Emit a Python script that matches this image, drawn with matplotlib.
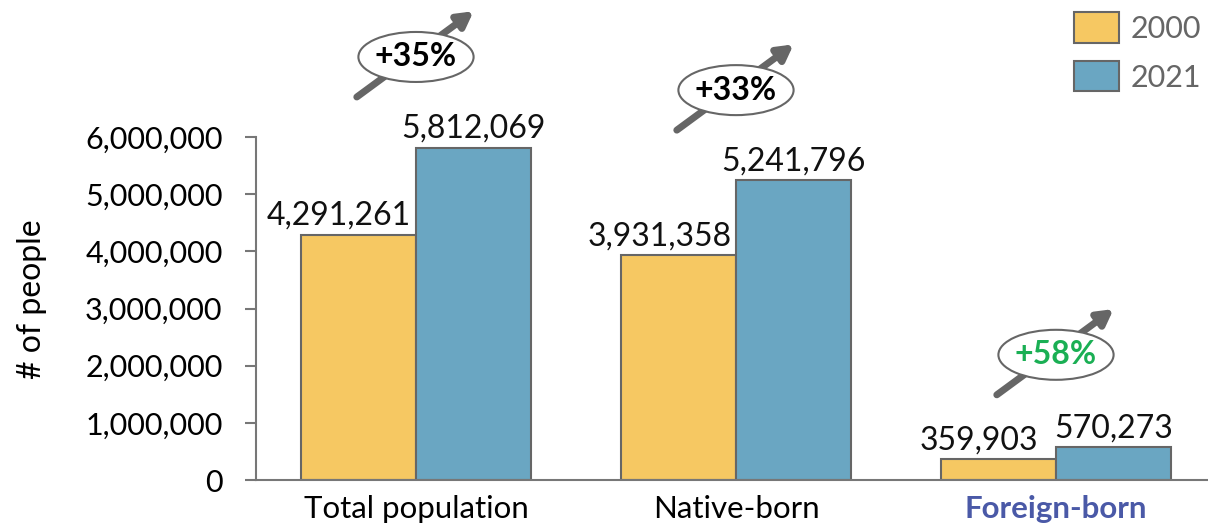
import matplotlib.pyplot as plt
from matplotlib.patches import Ellipse
import numpy as np

# datos
categorias = ['Total population', 'Native-born', 'Foreign-born']
valores_2000 = [4291261, 3931358, 359903]
valores_2021 = [5812069, 5241796, 570273]
anios = ['2000', '2021']
yticks = [0, 1000000, 2000000, 3000000, 4000000, 5000000, 6000000]

color_2000 = '#F6C862'
color_2021 = '#6AA6C2'
borde = '#666666'

plt.rcParams['font.family'] = ['Lato', 'DejaVu Sans']

fig = plt.figure(figsize=(12.08, 5.27), dpi=100)
ax = fig.add_axes([256 / 1208, 1 - 480 / 527, 1 - 256 / 1208, 480 / 527])

x = np.arange(len(categorias))
w = 0.36
ax.bar(x - w / 2, valores_2000, w, color=color_2000, edgecolor=borde, lw=1.5, label=anios[0], zorder=2)
ax.bar(x + w / 2, valores_2021, w, color=color_2021, edgecolor=borde, lw=1.5, label=anios[1], zorder=2)

px_m = (480 - 137) / 6.0  # pixeles por millon
ax.set_xlim(-0.5, 2.475)
ax.set_ylim(0, 480 / px_m * 1e6)

# etiquetas de valores
for xi, v in zip(x, valores_2000):
    ax.annotate(f'{v:,}', (xi - w / 2 - 0.06, v), xytext=(0, 3), textcoords='offset points',
                ha='center', va='bottom', fontsize=23, color='#111111')
for xi, v in zip(x, valores_2021):
    ax.annotate(f'{v:,}', (xi + w / 2, v), xytext=(0, 3), textcoords='offset points',
                ha='center', va='bottom', fontsize=23, color='#111111')

# ejes
ax.spines['top'].set_visible(False)
ax.spines['right'].set_visible(False)
ax.spines['left'].set_bounds(0, 6000000)
for s in ['left', 'bottom']:
    ax.spines[s].set_color('#777777')
    ax.spines[s].set_linewidth(1.5)
ax.set_yticks(yticks)
ax.set_yticklabels([f'{t:,}' for t in yticks])
ax.tick_params(axis='y', length=8, width=1.5, color='#777777', labelsize=22, pad=16)
ax.tick_params(axis='x', length=0, labelsize=22.5, pad=11)
ax.set_xticks(x)
ax.set_xticklabels(categorias)
lab = ax.get_xticklabels()[2]
lab.set_color('#4A59A7')
lab.set_fontweight('bold')
ax.set_ylabel('# of people', fontsize=23)
ax.yaxis.set_label_coords(-0.220, 0.377)

# flechas con porcentaje
centros_y = [7.40e6, 6.82e6, 2.19e6]
colores_pct = ['black', 'black', '#1AAF54']
for xi, cy, a, b, c in zip(x, centros_y, valores_2000, valores_2021, colores_pct):
    pct = round((b / a - 1) * 100)
    ax.annotate('', xy=(xi + 0.18, cy + 0.80e6), xytext=(xi - 0.185, cy - 0.70e6),
                arrowprops=dict(arrowstyle='-|>,head_length=0.9,head_width=0.5', lw=5,
                                color='#666666', shrinkA=0, shrinkB=0), annotation_clip=False, zorder=3)
    ax.add_patch(Ellipse((xi, cy), 0.36, 50 / px_m * 1e6, facecolor='white', edgecolor='#666666',
                         lw=1.5, zorder=4, clip_on=False))
    ax.text(xi, cy, f'+{pct}%', ha='center', va='center', fontsize=23, fontweight='bold',
            color=c, zorder=5)

leg = ax.legend(loc='upper right', bbox_to_anchor=(1.006, 1.0), frameon=False, fontsize=22,
                handlelength=1.47, handleheight=1.15, handletextpad=0.4, labelspacing=0.6,
                borderaxespad=0.0)
for t in leg.get_texts():
    t.set_color('#666666')

fig.savefig('out.png', dpi=100)
